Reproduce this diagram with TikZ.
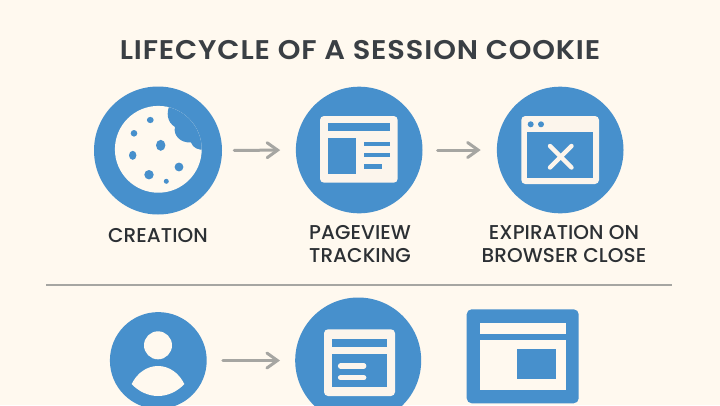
\documentclass[tikz,border=0pt]{standalone}
\usepackage{fontspec}
\newfontfamily\titlefont[FakeStretch=1.07,LetterSpace=3.2]{Poppins SemiBold}
\newfontfamily\labelfont[LetterSpace=0.3]{Poppins Medium}
\usetikzlibrary{arrows.meta}
\definecolor{bg}{HTML}{FFF9EF}
\definecolor{iconblue}{HTML}{4790CC}
\definecolor{panel}{HTML}{FCF5EC}
\definecolor{arrowgray}{HTML}{A6A6A2}
\definecolor{titleink}{HTML}{3A3F44}
\definecolor{labelink}{HTML}{2C3034}
\tikzset{
  disc/.style={circle,fill=iconblue,inner sep=0pt,minimum size=#1},
  flow/.style={draw=arrowgray,line width=3pt,line cap=round,-{Straight Barb[length=10.5pt,width=15pt,line cap=round]}},
  caption/.style={font=\labelfont\fontsize{20}{23.5}\selectfont,text=labelink,align=center,inner sep=0pt},
  pane/.style={fill=panel,rounded corners=4pt},
  ink/.style={fill=iconblue},
  creamfill/.style={fill=bg}
}
\begin{document}
\begin{tikzpicture}[x=1pt,y=-1pt]
\useasboundingbox (0,0) rectangle (720,405);
\fill[bg] (0,0) rectangle (720,405);
\begin{scope}
\clip (0,0) rectangle (720,405);
% title
\node[font=\titlefont\fontsize{27}{32}\selectfont,text=titleink,inner sep=0pt] (title) at (360,50) {LIFECYCLE OF A SESSION COOKIE};
% discs
\node[disc=128pt] (c1) at (158,150.5) {};
\node[disc=126.6pt] (c2) at (359.2,150) {};
\node[disc=126.6pt] (c3) at (560.2,150) {};
\node[disc=96.8pt] (p1) at (158.3,360.5) {};
\node[disc=126pt] (c4) at (358.2,360.5) {};
% cookie
\begin{scope}
\fill[creamfill] (158.3,149.3) circle (43.4);
\clip (158.3,149.3) circle (43.4);
\fill[ink] (170,104) .. controls (166,113) and (167,122) .. (175,127) .. controls (173,135) and (180,143) .. (191,142.5) .. controls (193,148) and (198,150) .. (205,150) -- (215,100) -- cycle;
\end{scope}
\fill[ink] (150.3,120) ellipse (3.4 and 3.1);
\fill[ink] (134,133.3) ellipse (3.3 and 3.3);
\fill[ink] (160.7,145.3) ellipse (4.7 and 5.5);
\fill[ink] (132.7,155.3) ellipse (3.7 and 4.5);
\fill[ink] (179,167) ellipse (4.4 and 4.4);
\fill[ink] (149,174.7) ellipse (4.7 and 4.7);
\fill[ink] (166.3,181.3) ellipse (2.5 and 2.5);
% page icon
\fill[pane] (320,116) rectangle (397.7,182.7);
\fill[ink] (327.7,123) rectangle (390.3,131.3);
\fill[ink] (327.7,137.7) rectangle (356.3,174.3);
\fill[ink] (364,141.7) rectangle (390.3,146.3);
\fill[ink] (364,153) rectangle (390.3,157.3);
\fill[ink] (364,164.3) rectangle (381.7,168.7);
% close icon
\fill[pane] (521.3,116) rectangle (599,184);
\fill[ink] (527,132) rectangle (593.3,178.3);
\fill[ink] (530.7,124.3) circle (3);
\fill[ink] (541,124.3) circle (3);
\draw[panel,line width=4.4pt,line cap=round] (550,146) -- (571.5,167.5);
\draw[panel,line width=4.4pt,line cap=round] (571.5,146) -- (550,167.5);
% person
\fill[creamfill] (158,345.3) circle (14);
\fill[creamfill] (131.7,384) .. controls (137,373) and (147,366) .. (158,366) .. controls (169,366) and (179,373) .. (184.3,384) .. controls (177,392) and (167,396) .. (158,396) .. controls (149,396) and (139,392) .. (131.7,384) -- cycle;
% small page icon
\fill[pane] (324,329.3) rectangle (395,396);
\fill[ink] (331.7,339.3) rectangle (386.7,346.7);
\fill[ink] (331.7,353.7) rectangle (386.7,387.3);
\draw[panel,line width=5.2pt,line cap=round] (340.5,366) -- (363.8,366);
\draw[panel,line width=5.2pt,line cap=round] (340.5,377.7) -- (363.8,377.7);
% large window icon
\fill[ink,rounded corners=5pt] (466.7,309.3) rectangle (578.7,403.3);
\fill[creamfill] (480,323.3) rectangle (565.7,334.3);
\fill[creamfill] (480,340) rectangle (565.7,389.7);
\fill[ink] (517.3,349.3) rectangle (555.7,379.3);
% connectors
\draw[flow,shorten <=12pt,shorten >=15.5pt] (c1.east) -- (c2.west);
\draw[flow,shorten <=15pt,shorten >=16pt] (c2.east) -- (c3.west);
\draw[flow,shorten <=16pt,shorten >=15pt] (p1.east) -- (c4.west);
% divider
\coordinate (dl) at (46,285);
\coordinate (dr) at (672,285);
\draw[arrowgray,line width=1.8pt] (dl) -- (dr);
% captions
\node[caption] (l1) at (158,235.5) {CREATION};
\node[caption] (l2) at (360,244) {PAGEVIEW\\TRACKING};
\node[caption] (l3) at (564,244) {EXPIRATION ON\\BROWSER CLOSE};
\end{scope}
\end{tikzpicture}
\end{document}
